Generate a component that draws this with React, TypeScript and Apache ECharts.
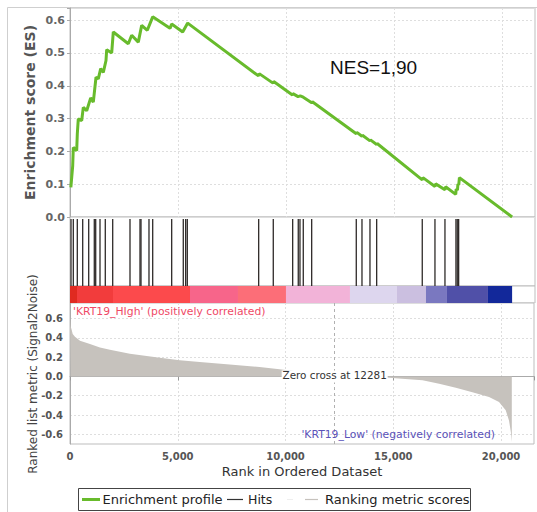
import React, { useEffect, useRef } from 'react';
import * as echarts from 'echarts';

const RANK_MAX = 21530;
const xTicks = [0, 5000, 10000, 15000, 20000];
const esTicks = [0, 0.1, 0.2, 0.3, 0.4, 0.5, 0.6];
const metricTicks = [-0.6, -0.4, -0.2, 0, 0.2, 0.4, 0.6];

const esPoints: [number, number][] = [
  [40, 0.09], [125, 0.156], [153, 0.212], [310, 0.202], [338, 0.253], [384, 0.299],
  [542, 0.294], [616, 0.334], [773, 0.324], [958, 0.363], [1079, 0.35], [1204, 0.426],
  [1310, 0.421], [1421, 0.452], [1542, 0.441], [1667, 0.477], [1699, 0.51], [1931, 0.5],
  [2005, 0.564], [2699, 0.528], [2856, 0.554], [3162, 0.533], [3319, 0.584], [3579, 0.569],
  [3829, 0.61], [4630, 0.575], [4708, 0.588], [5218, 0.564], [5449, 0.591],
  [8730, 0.43], [8760, 0.437], [9400, 0.408], [9430, 0.413], [10300, 0.372], [10320, 0.376],
  [10560, 0.367], [10660, 0.369], [10800, 0.365], [11190, 0.348], [11220, 0.351],
  [13255, 0.254], [13280, 0.258], [13519, 0.246], [13540, 0.249], [13889, 0.232], [13910, 0.235],
  [14199, 0.221], [14220, 0.224], [16310, 0.113], [16340, 0.12], [16898, 0.093], [16930, 0.101],
  [17361, 0.083], [17390, 0.092], [17860, 0.069], [17880, 0.085], [17940, 0.082], [17960, 0.1],
  [18000, 0.098], [18030, 0.12], [20470, 0.0],
];

const hitRanks: number[] = [
  46, 153, 338, 588, 866, 1125, 1190, 1389, 1634, 1977, 2778, 3241, 3287, 3657, 3829,
  4708, 5245, 5356, 5431, 8736, 9412, 10310, 10569, 10648, 10801, 11190, 13255, 13519,
  13889, 14199, 16310, 16898, 17361, 17870, 17931, 17995,
];

const metricPoints: [number, number][] = [
  [0, 0.62], [30, 0.52], [80, 0.48], [125, 0.44], [231, 0.41], [463, 0.37], [926, 0.335],
  [1389, 0.3], [1852, 0.277], [2778, 0.235], [4167, 0.194], [5093, 0.166], [6019, 0.148],
  [7407, 0.124], [8796, 0.097], [9722, 0.073], [10185, 0.062], [11200, 0.035], [12281, 0],
  [13200, -0.004], [14500, -0.01], [15400, -0.025], [16356, -0.04], [17130, -0.076],
  [17903, -0.117], [18671, -0.163], [19444, -0.214], [19907, -0.266], [20218, -0.35],
  [20370, -0.456], [20460, -0.58], [20500, -0.68],
];

const barEdges = [0, 324, 1991, 5556, 7778, 10000, 12963, 15139, 16481, 17454, 19352, 20470];
const barColors = [
  '#e02a20', '#f23c3c', '#fc4a4c', '#f7658a', '#fc6e78', '#f2b3d8',
  '#ddd6ee', '#cbbfe0', '#7a78c0', '#5050a8', '#12289a',
];

const zeroCross = 12281;
const nesLabel = 'NES=1,90';
const highLabel = "'KRT19_HIgh' (positively correlated)";
const lowLabel = "'KRT19_Low' (negatively correlated)";
const esTitle = 'Enrichment score (ES)';
const metricTitle = 'Ranked list metric (Signal2Noise)';
const xTitle = 'Rank in Ordered Dataset';
const legendNames = ['Enrichment profile', 'Hits', 'Ranking metric scores'];

const FONT = '"DejaVu Sans", sans-serif';
const GREEN = '#68bb2c';
const AREA = '#c6c2bd';

function matchTick(ticks: number[], v: number) {
  const t = ticks.find((k) => Math.abs(k - v) < 1e-6);
  return t === undefined ? '' : t.toFixed(1);
}

export default function App() {
  const ref = useRef<HTMLDivElement>(null);
  useEffect(() => {
    if (!ref.current) return;
    const chart = echarts.init(ref.current, null, { renderer: 'svg' });
    const gridBase = { left: 70, width: 465, show: true, borderColor: '#bdbdbd', borderWidth: 1, backgroundColor: '#fff' };
    const xBase = (i: number) => ({
      type: 'value', gridIndex: i, min: 0, max: RANK_MAX, interval: 5000,
      axisLine: { show: false }, axisTick: { show: false }, axisLabel: { show: false },
      splitLine: { show: false },
    });
    const barData = barColors.map((c, i) => [barEdges[i], barEdges[i + 1], i]);
    const option: any = {
      animation: false,
      backgroundColor: '#fff',
      grid: [
        { ...gridBase, top: 8, height: 209 },
        { ...gridBase, top: 217, height: 69 },
        { ...gridBase, top: 286, height: 17 },
        { ...gridBase, top: 303, height: 141 },
      ],
      xAxis: [
        { ...xBase(0), splitLine: { show: true, lineStyle: { color: '#dedede', type: [2, 2] } } },
        xBase(1),
        xBase(2),
        {
          ...xBase(3),
          axisLine: { show: true, lineStyle: { color: '#aaa' } },
          axisTick: { show: true, length: 4, lineStyle: { color: '#999' } },
          axisLabel: {
            show: true, margin: 7, color: '#555', fontFamily: FONT, fontSize: 10, fontWeight: 'bold',
            formatter: (v: number) => (xTicks.includes(v) ? v.toLocaleString('en-US') : ''),
          },
          splitLine: { show: true, lineStyle: { color: '#dedede', type: [2, 2] } },
          name: xTitle, nameLocation: 'middle', nameGap: 21,
          nameTextStyle: { fontFamily: FONT, fontSize: 13, color: '#333' },
        },
      ],
      yAxis: [
        {
          type: 'value', gridIndex: 0, min: 0, max: 0.637, interval: 0.1,
          axisLine: { show: true, lineStyle: { color: '#aaa' } },
          axisTick: { show: true, length: 3, lineStyle: { color: '#aaa' } },
          axisLabel: {
            margin: 5, color: '#666', fontFamily: FONT, fontSize: 11, fontWeight: 'bold',
            formatter: (v: number) => matchTick(esTicks, v),
          },
          splitLine: { show: true, lineStyle: { color: '#dedede', type: [2, 2] } },
        },
        { type: 'value', gridIndex: 1, min: 0, max: 1, show: false },
        { type: 'value', gridIndex: 2, min: 0, max: 1, show: false },
        {
          type: 'value', gridIndex: 3, min: -0.7, max: 0.76, interval: 0.1,
          axisLine: { show: true, lineStyle: { color: '#aaa' } },
          axisTick: { show: false },
          axisLabel: {
            margin: 7, color: '#555', fontFamily: FONT, fontSize: 10, fontWeight: 'bold',
            formatter: (v: number) => matchTick(metricTicks, v),
          },
          splitLine: { show: true, lineStyle: { color: ['rgba(0,0,0,0)', '#dedede'], type: [2, 2] } },
        },
      ],
      series: [
        {
          type: 'line', name: legendNames[0], xAxisIndex: 0, yAxisIndex: 0, data: esPoints,
          showSymbol: false, lineStyle: { color: GREEN, width: 3 }, z: 5,
        },
        {
          type: 'custom', name: legendNames[1], xAxisIndex: 1, yAxisIndex: 1,
          data: hitRanks.map((r) => [r]),
          encode: { x: 0 },
          renderItem: (_p: any, api: any) => {
            const r = api.value(0);
            const a = api.coord([r, 0.97]);
            const b = api.coord([r, 0]);
            return {
              type: 'line',
              shape: { x1: a[0], y1: a[1], x2: b[0], y2: b[1] },
              style: { stroke: '#2e2a28', lineWidth: 1.3 },
            };
          },
        },
        {
          type: 'custom', xAxisIndex: 2, yAxisIndex: 2, data: barData,
          encode: { x: [0, 1] },
          renderItem: (_p: any, api: any) => {
            const a = api.coord([api.value(0), 1]);
            const b = api.coord([api.value(1), 0]);
            return {
              type: 'rect',
              shape: { x: a[0], y: a[1], width: b[0] - a[0], height: b[1] - a[1] },
              style: { fill: barColors[api.value(2)] },
            };
          },
        },
        {
          type: 'line', name: legendNames[2], xAxisIndex: 3, yAxisIndex: 3, data: metricPoints,
          showSymbol: false, lineStyle: { width: 0 }, areaStyle: { color: AREA, opacity: 1, origin: 0 },
          markLine: {
            silent: true, symbol: 'none', label: { show: false },
            lineStyle: { color: '#b0b0b0', type: [3, 3], width: 1 },
            data: [{ xAxis: zeroCross }],
          },
          markPoint: {
            silent: true,
            data: [{
              coord: [zeroCross, 0], symbol: 'rect', symbolSize: [106, 12],
              itemStyle: { color: '#fff' },
              label: {
                show: true, position: 'inside', offset: [0, -1], formatter: 'Zero cross at ' + zeroCross,
                color: '#333', fontFamily: FONT, fontSize: 10.4,
              },
            }],
          },
        },
      ],
      graphic: [
        { type: 'rect', shape: { x: 7.5, y: 7.5, width: 620, height: 620 }, style: { fill: 'none', stroke: '#cfcfcf', lineWidth: 1 }, z: 0, silent: true },
        { type: 'text', x: 330, y: 67, style: { text: nesLabel, font: '19px "Liberation Sans", Arial, sans-serif', fill: '#111', textVerticalAlign: 'middle' }, z: 10 },
        { type: 'text', x: 73, y: 311, style: { text: highLabel, font: '10.8px ' + FONT, fill: '#ef4a66', textVerticalAlign: 'middle' }, z: 10 },
        { type: 'text', x: 495, y: 434, style: { text: lowLabel, font: '10.8px ' + FONT, fill: '#5a52b8', textAlign: 'right', textVerticalAlign: 'middle' }, z: 10 },
        { type: 'text', x: 30, y: 112.5, rotation: Math.PI / 2, style: { text: esTitle, font: 'bold 14px ' + FONT, fill: '#555', textAlign: 'center', textVerticalAlign: 'middle' }, z: 10 },
        { type: 'text', x: 33, y: 374, rotation: Math.PI / 2, style: { text: metricTitle, font: '12px ' + FONT, fill: '#444', textAlign: 'center', textVerticalAlign: 'middle' }, z: 10 },
        { type: 'rect', shape: { x: 78.5, y: 488.5, width: 392, height: 22 }, style: { fill: '#fff', stroke: '#444', lineWidth: 1 }, z: 10 },
        { type: 'line', shape: { x1: 82, y1: 499.5, x2: 100, y2: 499.5 }, style: { stroke: GREEN, lineWidth: 3 }, z: 11 },
        { type: 'text', x: 102.5, y: 499.5, style: { text: legendNames[0], font: '13px ' + FONT, fill: '#222', textVerticalAlign: 'middle' }, z: 11 },
        { type: 'line', shape: { x1: 227, y1: 499.5, x2: 243, y2: 499.5 }, style: { stroke: '#333', lineWidth: 1.2 }, z: 11 },
        { type: 'text', x: 248, y: 499.5, style: { text: legendNames[1], font: '12.5px ' + FONT, fill: '#222', textVerticalAlign: 'middle' }, z: 11 },
        { type: 'line', shape: { x1: 287, y1: 499.5, x2: 293, y2: 499.5 }, style: { stroke: '#eeeeee', lineWidth: 1 }, z: 11 },
        { type: 'line', shape: { x1: 305, y1: 499.5, x2: 318, y2: 499.5 }, style: { stroke: AREA, lineWidth: 1.2 }, z: 11 },
        { type: 'text', x: 325, y: 499.5, style: { text: legendNames[2], font: '13px ' + FONT, fill: '#222', textVerticalAlign: 'middle' }, z: 11 },
      ],
    };
    chart.setOption(option);
    return () => chart.dispose();
  }, []);
  return <div ref={ref} style={{ width: 537, height: 512, position: 'absolute', left: 0, top: 0 }} />;
}
